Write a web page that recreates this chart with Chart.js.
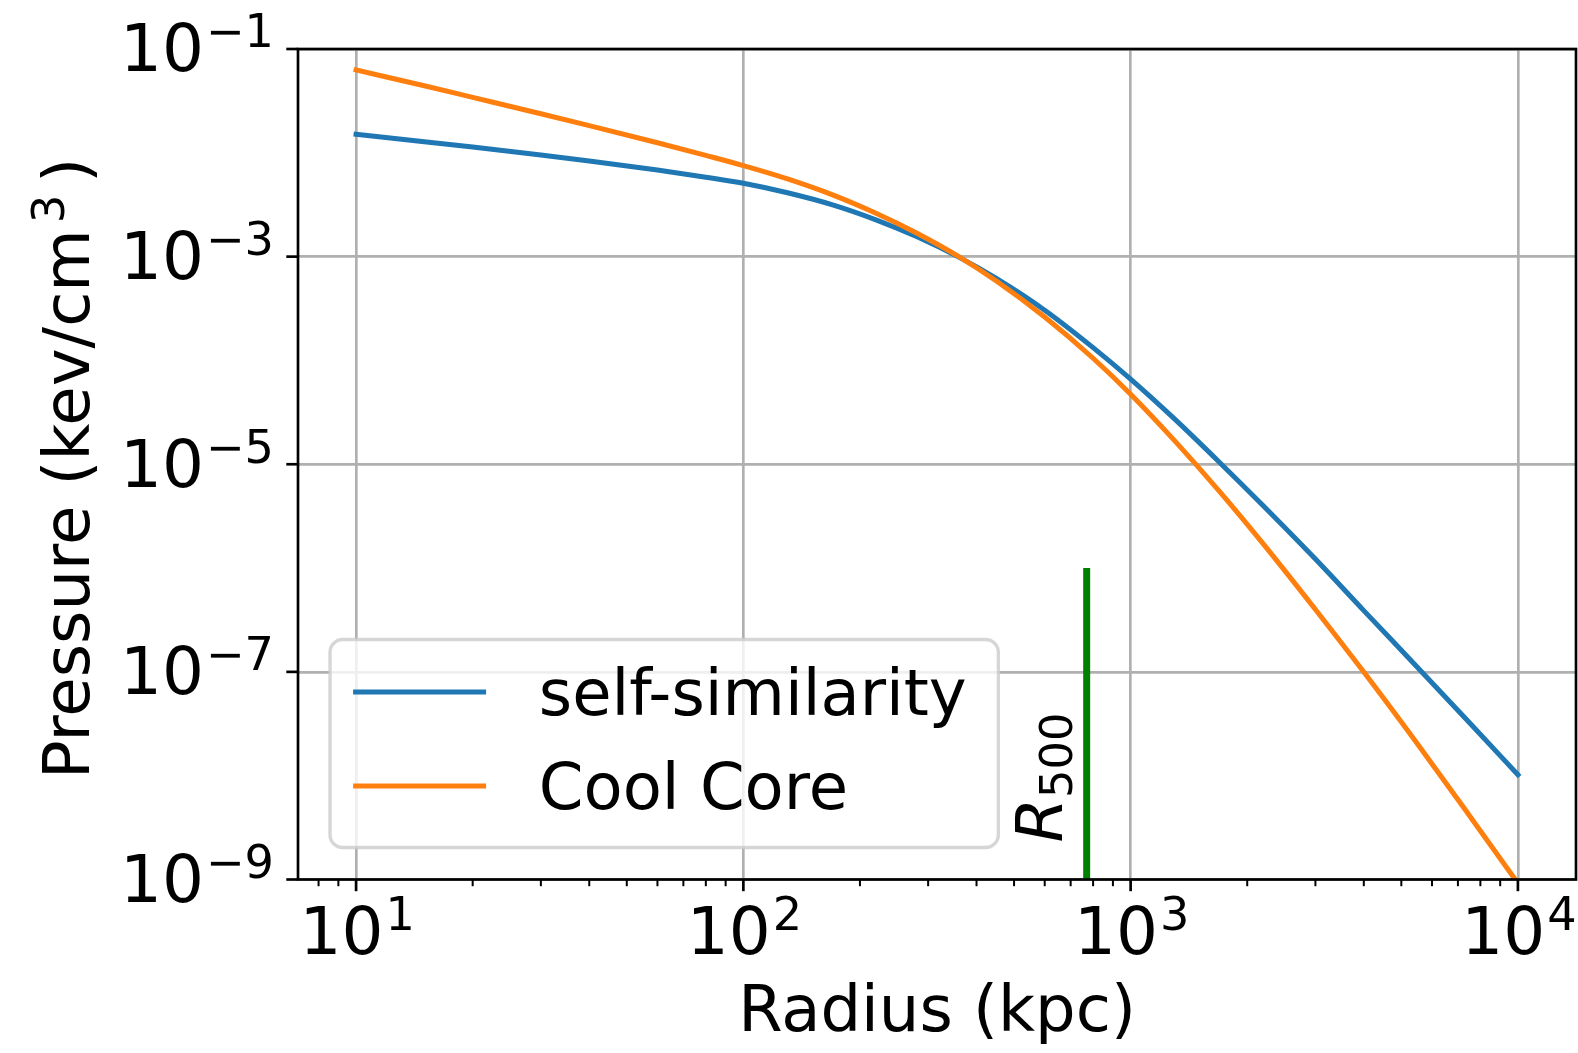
<!DOCTYPE html>
<html>
<head>
<meta charset="utf-8">
<script src="https://cdn.jsdelivr.net/npm/chart.js@4.4.1/dist/chart.umd.min.js"></script>
<style>
  html, body { margin: 0; padding: 0; background: #fff; }
</style>
</head>
<body>
<canvas id="pressure" width="1578" height="1053"></canvas>
<script>
// radius in kpc, pressure in keV/cm^3
const radius = [10, 15, 20, 30, 40, 60, 80, 100, 130, 170, 220, 280, 360, 450, 600, 800, 1000, 1300, 1700, 2200, 3000, 4000, 5500, 7500, 10000];
const selfSimilarity = [1.51e-2, 1.28e-2, 1.135e-2, 9.51e-3, 8.34e-3, 6.82e-3, 5.82e-3, 5.09e-3, 4.12e-3, 3.15e-3, 2.26e-3, 1.56e-3, 9.89e-4, 6.17e-4, 3.05e-4, 1.33e-4, 6.61e-5, 2.72e-5, 1.035e-5, 3.98e-6, 1.22e-6, 3.89e-7, 1.11e-7, 3.24e-8, 1.02e-8];
const coolCore = [6.28e-2, 4.42e-2, 3.42e-2, 2.38e-2, 1.83e-2, 1.25e-2, 9.44e-3, 7.53e-3, 5.61e-3, 3.94e-3, 2.62e-3, 1.69e-3, 1.0e-3, 5.82e-4, 2.62e-4, 1.05e-4, 4.73e-5, 1.68e-5, 5.42e-6, 1.71e-6, 3.99e-7, 9.95e-8, 2.03e-8, 4.12e-9, 9.2e-10];
const seriesLabels = ["self-similarity", "Cool Core"];

const r500 = 770;
const r500Span = [1e-9, 1e-6];

const xTickExps = [1, 2, 3, 4];
const yTickExps = [-1, -3, -5, -7, -9];
const yRange = [1e-9, 1e-1];

const xTitle = "Radius (kpc)";
const yTitle = ["Pressure (kev/cm", "3", ")"];

const FONT = "'DejaVu Sans', sans-serif";
const FS = 64;
const TICK_FS = 66;
const SUP_FS = 0.7 * TICK_FS;
const GRID = "#b0b0b0";

// matplotlib-like 5% margin on the log x axis
const lo = Math.log10(radius[0]);
const hi = Math.log10(radius[radius.length - 1]);
const xMin = Math.pow(10, lo - 0.05 * (hi - lo));
const xMax = Math.pow(10, hi + 0.05 * (hi - lo));

const isDecade = v => Math.abs(Math.log10(v) - Math.round(Math.log10(v))) < 1e-9;

function logTicks(min, max) {
    const out = [];
    for (let e = Math.floor(Math.log10(min)); e <= Math.ceil(Math.log10(max)); e++) {
        for (let m = 1; m <= 9; m++) {
            const v = m * Math.pow(10, e);
            if (v >= min && v <= max) out.push({ value: v, major: m === 1 });
        }
    }
    return out;
}

function drawPower(ctx, exp, x, y, align) {
    const base = "10";
    const sup = (exp < 0 ? "\u2212" : "") + Math.abs(exp);
    ctx.font = TICK_FS + "px " + FONT;
    const wb = ctx.measureText(base).width;
    ctx.font = SUP_FS + "px " + FONT;
    const ws = ctx.measureText(sup).width;
    const x0 = align === "center" ? x - (wb + ws) / 2 : x - (wb + ws);
    ctx.textAlign = "left";
    ctx.textBaseline = "alphabetic";
    ctx.font = TICK_FS + "px " + FONT;
    ctx.fillText(base, x0, y);
    ctx.font = SUP_FS + "px " + FONT;
    ctx.fillText(sup, x0 + wb + 2, y - 24);
}

const decor = {
    id: "decor",
    afterDraw(chart) {
        const { ctx, chartArea: a, scales } = chart;
        const xs = scales.x, ys = scales.y;
        ctx.save();
        ctx.fillStyle = "#000";
        ctx.strokeStyle = "#000";

        // spines
        ctx.lineWidth = 2.67;
        ctx.strokeRect(a.left, a.top, a.right - a.left, a.bottom - a.top);

        // tick marks
        ctx.lineCap = "butt";
        xs.ticks.forEach(t => {
            const px = xs.getPixelForValue(t.value);
            ctx.lineWidth = t.major ? 2.67 : 2;
            ctx.beginPath();
            ctx.moveTo(px, a.bottom);
            ctx.lineTo(px, a.bottom + (t.major ? 11.7 : 6.7));
            ctx.stroke();
        });
        ys.ticks.forEach(t => {
            const py = ys.getPixelForValue(t.value);
            ctx.lineWidth = 2.67;
            ctx.beginPath();
            ctx.moveTo(a.left, py);
            ctx.lineTo(a.left - 11.7, py);
            ctx.stroke();
        });

        // tick labels
        xTickExps.forEach(e => drawPower(ctx, e, xs.getPixelForValue(Math.pow(10, e)), a.bottom + 74, "center"));
        yTickExps.forEach(e => drawPower(ctx, e, a.left - 26, ys.getPixelForValue(Math.pow(10, e)) + 22.4, "right"));

        // y axis title with a superscript, written bottom to top
        ctx.save();
        ctx.translate(88.5, 779);
        ctx.rotate(-Math.PI / 2);
        ctx.textAlign = "left";
        ctx.font = FS + "px " + FONT;
        ctx.fillText(yTitle[0], 0, 0);
        let off = ctx.measureText(yTitle[0]).width + 6;
        ctx.font = 0.7 * FS + "px " + FONT;
        ctx.fillText(yTitle[1], off, -25);
        off += ctx.measureText(yTitle[1]).width + 12;
        ctx.font = FS + "px " + FONT;
        ctx.fillText(yTitle[2], off, 0);
        ctx.restore();

        // R500 label next to the green line
        ctx.save();
        ctx.translate(xs.getPixelForValue(r500) - 25, a.bottom - 37);
        ctx.rotate(-Math.PI / 2);
        ctx.font = "italic " + FS + "px " + FONT;
        ctx.fillText("R", 0, 0);
        const wR = ctx.measureText("R").width;
        ctx.font = 0.7 * FS + "px " + FONT;
        ctx.fillText("500", wR, 10);
        ctx.restore();

        // legend (lower left)
        const items = chart.data.datasets.filter(d => d.inLegend);
        ctx.font = FS + "px " + FONT;
        const tw = Math.max(...items.map(d => ctx.measureText(d.label).width));
        const pad = 0.4 * FS, hl = 2.0 * FS, htp = 0.8 * FS + 4;
        const bw = pad + hl + htp + tw + pad + 6;
        const bh = 208;
        const bx = a.left + 0.5 * FS;
        const by = a.bottom - 0.5 * FS - bh;
        ctx.beginPath();
        ctx.roundRect(bx, by, bw, bh, 0.2 * FS);
        ctx.fillStyle = "rgba(255,255,255,0.8)";
        ctx.fill();
        ctx.lineWidth = 3.33;
        ctx.strokeStyle = "rgba(204,204,204,0.8)";
        ctx.stroke();
        items.forEach((d, i) => {
            const cy = by + 52.5 + i * 94;
            ctx.strokeStyle = d.borderColor;
            ctx.lineWidth = 5;
            ctx.lineCap = "square";
            ctx.beginPath();
            ctx.moveTo(bx + pad, cy);
            ctx.lineTo(bx + pad + hl, cy);
            ctx.stroke();
            ctx.fillStyle = "#000";
            ctx.font = FS + "px " + FONT;
            ctx.fillText(d.label, bx + pad + hl + htp, cy + 23);
        });
        ctx.restore();
    }
};

new Chart(document.getElementById("pressure"), {
    type: "line",
    data: {
        datasets: [
            {
                label: seriesLabels[0],
                data: radius.map((r, i) => ({ x: r, y: selfSimilarity[i] })),
                borderColor: "#1f77b4",
                borderWidth: 5,
                borderCapStyle: "square",
                cubicInterpolationMode: "monotone",
                pointRadius: 0,
                clip: 0,
                order: 3,
                inLegend: true,
            },
            {
                label: seriesLabels[1],
                data: radius.map((r, i) => ({ x: r, y: coolCore[i] })),
                borderColor: "#ff7f0e",
                borderWidth: 5,
                borderCapStyle: "square",
                cubicInterpolationMode: "monotone",
                pointRadius: 0,
                clip: 0,
                order: 2,
                inLegend: true,
            },
            {
                label: "R500",
                data: r500Span.map(p => ({ x: r500, y: p })),
                borderColor: "#008000",
                borderWidth: 7,
                borderCapStyle: "butt",
                pointRadius: 0,
                clip: 0,
                order: 1,
                inLegend: false,
            },
        ],
    },
    options: {
        responsive: false,
        animation: false,
        layout: { padding: { left: 0, top: 49, right: 2, bottom: 0 } },
        plugins: {
            legend: { display: false },
            tooltip: { enabled: false },
        },
        scales: {
            x: {
                type: "logarithmic",
                min: xMin,
                max: xMax,
                afterBuildTicks: s => { s.ticks = logTicks(xMin, xMax); },
                afterFit: s => { s.height = 173.5; },
                ticks: { display: false },
                border: { display: false },
                grid: {
                    drawTicks: false,
                    lineWidth: 2.67,
                    color: c => (c.tick && isDecade(c.tick.value) ? GRID : "rgba(0,0,0,0)"),
                },
                title: {
                    display: true,
                    text: xTitle,
                    color: "#000",
                    font: { family: FONT, size: FS, lineHeight: 1.2 },
                    padding: { top: 0, bottom: 0 },
                },
            },
            y: {
                type: "logarithmic",
                min: yRange[0],
                max: yRange[1],
                afterBuildTicks: s => { s.ticks = yTickExps.map(e => ({ value: Math.pow(10, e), major: true })); },
                afterFit: s => { s.width = 298; },
                ticks: { display: false },
                border: { display: false },
                grid: { drawTicks: false, lineWidth: 2.67, color: GRID },
                title: { display: false },
            },
        },
    },
    plugins: [decor],
});
</script>
</body>
</html>
